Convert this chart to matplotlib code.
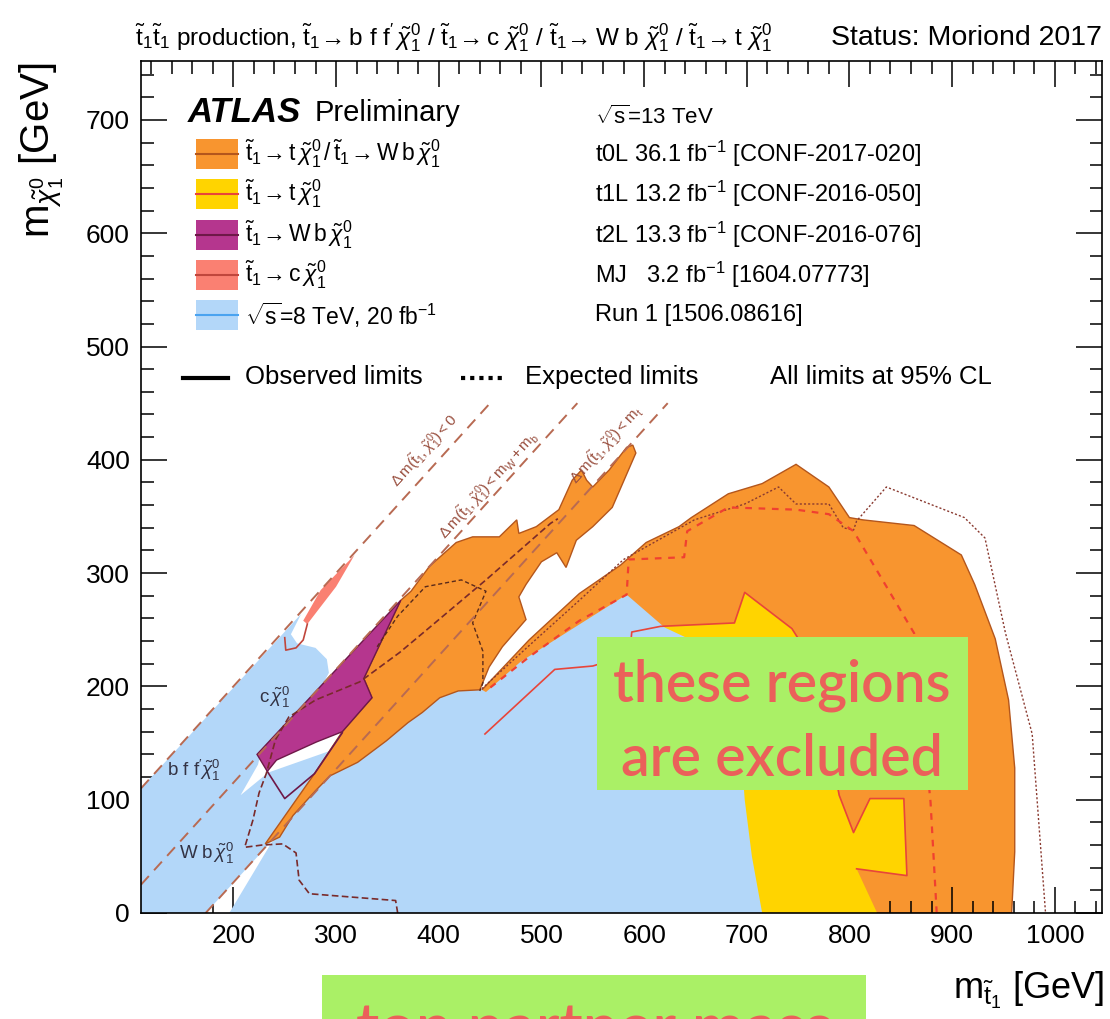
import matplotlib.pyplot as plt
from matplotlib.patches import Rectangle
from matplotlib.lines import Line2D

plt.rcParams['font.family'] = ['Liberation Sans', 'DejaVu Sans']
plt.rcParams['mathtext.fontset'] = 'custom'
plt.rcParams['mathtext.rm'] = 'Liberation Sans'
plt.rcParams['mathtext.it'] = 'Liberation Sans:italic'
plt.rcParams['mathtext.bf'] = 'Liberation Sans:bold'

# ---- exclusion contours (m_stop, m_chi) in GeV ----
# Run 1 (8 TeV) light blue, split by the white slit along the top-mass line
run1_left_x = [110, 110, 266, 256, 262, 280, 291, 293, 286, 265, 245, 226, 224, 207, 234, 300, 290, 258, 237, 173]
run1_left_y = [0, 110, 264, 246, 238, 234, 224, 212, 200, 178, 158, 139, 131, 104, 124, 145, 128, 91, 63, 0]
run1_main_x = [196, 237, 258, 290, 330, 370, 410, 440, 446, 480, 520, 583, 620, 660, 690, 698, 705, 715]
run1_main_y = [0, 62, 88, 125, 160, 185, 200, 198, 195, 222, 245, 281, 252, 235, 200, 100, 50, 0]

# t0L 36.1 fb-1, orange: diagonal band and the large region
t0l_band_x = [231, 255, 279, 306, 335, 327, 345, 363, 373, 391, 417, 433, 459, 476, 478, 495, 517, 530, 539,
              544, 550, 566, 583, 589, 592, 569, 550, 534, 524, 515, 500, 485, 478, 485, 462, 449, 440,
              419, 401, 384, 370, 349, 321, 294, 280, 258, 245]
t0l_band_y = [61, 92, 123, 160, 190, 207, 242, 276, 284, 306, 327, 332, 332, 347, 335, 341, 356, 382, 391,
              382, 376, 391, 411, 413, 406, 358, 341, 329, 305, 318, 310, 290, 279, 259, 235, 217, 197,
              196, 190, 177, 168, 152, 133, 121, 108, 86, 67]
t0l_main_x = [439, 488, 537, 577, 602, 634, 646, 682, 715, 748, 780, 800, 813, 863, 909, 922, 942, 955,
              961, 961, 958, 600, 450]
t0l_main_y = [194, 241, 282, 307, 327, 341, 349, 370, 379, 396, 376, 349, 347, 342, 316, 290, 242, 188,
              128, 54, 0, 0, 150]

# t1L 13.2 fb-1, yellow
t1l_x = [445, 513, 550, 586, 588, 616, 688, 698, 744, 751, 770, 790, 804, 820, 853, 856, 807, 827, 715, 600]
t1l_y = [158, 215, 218, 228, 248, 253, 256, 283, 251, 241, 200, 104, 71, 101, 101, 33, 39, 0, 0, 80]

# t2L 13.3 fb-1, purple
t2l_x = [223, 363, 327, 335, 306, 281, 242, 233]
t2l_y = [140, 276, 207, 190, 160, 151, 135, 125]
t2l_obs_x = [233, 250, 279, 306]
t2l_obs_y = [125, 101, 123, 159]

# MJ 3.2 fb-1, salmon sliver
mj_x = [268, 285, 318, 300, 283, 272]
mj_y = [258, 285, 316, 288, 268, 255]
mj_hook_x = [250, 251, 261, 268, 272]
mj_hook_y = [243, 232, 234, 241, 255]

# expected limits
t2l_exp_x = [360, 358, 274, 264, 261, 248, 228, 211, 219, 225, 232, 241, 254, 280, 323, 362, 391, 446, 509, 516]
t2l_exp_y = [0, 11, 17, 29, 53, 61, 60, 58, 82, 106, 123, 153, 173, 188, 204, 230, 252, 294, 344, 348]
t0l_exp_band_x = [340, 360, 387, 422, 446, 433, 443, 443, 440]
t0l_exp_band_y = [235, 262, 288, 294, 284, 256, 231, 203, 196]
t0l_exp_x = [442, 488, 537, 580, 649, 698, 731, 748, 780, 794, 804, 807, 836, 912, 932, 952, 978, 991]
t0l_exp_y = [198, 236, 276, 312, 347, 361, 376, 361, 361, 340, 338, 346, 376, 349, 331, 247, 158, 0]
t1l_exp_x = [885, 879, 863, 804, 780, 748, 682, 642, 639, 585, 583, 537, 488, 446]
t1l_exp_y = [0, 98, 247, 337, 352, 356, 358, 337, 314, 312, 281, 258, 226, 196]

# kinematic boundaries: dm < 0, dm < mW + mb, dm < mt
kin_x = [[110, 450], [110, 535], [173, 623]]
kin_y = [[110, 450], [25, 450], [0, 450]]
kin_labels = [r'$\Delta\,\mathrm{m}(\tilde{\mathrm{t}}_1,\tilde{\chi}^0_1)<0$',
              r'$\Delta\,\mathrm{m}(\tilde{\mathrm{t}}_1,\tilde{\chi}^0_1)<\mathrm{m}_\mathrm{W}+\mathrm{m}_\mathrm{b}$',
              r'$\Delta\,\mathrm{m}(\tilde{\mathrm{t}}_1,\tilde{\chi}^0_1)<\mathrm{m}_\mathrm{t}$']
kin_label_xy = [(386, 408), (449, 378), (563, 413)]

decay_labels = [r'c$\,\tilde{\chi}^0_1$', r'b f f$^\prime\tilde{\chi}^0_1$', r'W b$\,\tilde{\chi}^0_1$']
decay_label_xy = [(240, 190), (161, 126), (174, 53)]

legend_labels = [
    r'$\tilde{\mathrm{t}}_1\!\rightarrow\mathrm{t}\,\tilde{\chi}^0_1\,/\,\tilde{\mathrm{t}}_1\!\rightarrow\mathrm{W\,b}\,\tilde{\chi}^0_1$',
    r'$\tilde{\mathrm{t}}_1\!\rightarrow\mathrm{t}\,\tilde{\chi}^0_1$',
    r'$\tilde{\mathrm{t}}_1\!\rightarrow\mathrm{W\,b}\,\tilde{\chi}^0_1$',
    r'$\tilde{\mathrm{t}}_1\!\rightarrow\mathrm{c}\,\tilde{\chi}^0_1$',
    r'$\sqrt{\mathrm{s}}$=8 TeV, 20 fb$^{-1}$',
]
legend_refs = [
    r't0L 36.1 fb$^{-1}$ [CONF-2017-020]',
    r't1L 13.2 fb$^{-1}$ [CONF-2016-050]',
    r't2L 13.3 fb$^{-1}$ [CONF-2016-076]',
    r'MJ   3.2 fb$^{-1}$ [1604.07773]',
    'Run 1 [1506.08616]',
]

ORANGE, ORANGE_LINE = '#f8952f', '#b4561c'
YELLOW, YELLOW_LINE = '#ffd400', '#e8453a'
PURPLE, PURPLE_LINE = '#b5368e', '#6e1848'
PINK, PINK_LINE = '#fa8072', '#c0463c'
BLUE, BLUE_LINE = '#b3d7f9', '#4aa3f0'
BROWN = '#b86a52'
GREEN, RED_TXT = '#aaf066', '#eb605a'

fig = plt.figure(figsize=(11.1, 10.19), dpi=100)
W, H = 1110, 1019
L, R, T, B = 141, 1102, 61, 913
ax = fig.add_axes([L / W, 1 - B / H, (R - L) / W, (B - T) / H])


def af(px, py):
    # picture pixel -> axes fraction
    return (px - L) / (R - L), (B - py) / (B - T)


ax.fill(t0l_main_x, t0l_main_y, fc=ORANGE, ec=ORANGE_LINE, lw=1.0, zorder=1)
ax.fill(t1l_x, t1l_y, fc=YELLOW, ec='none', zorder=2)
ax.fill(run1_left_x, run1_left_y, fc=BLUE, ec='none', zorder=3)
ax.fill(run1_main_x, run1_main_y, fc=BLUE, ec='none', zorder=3)
ax.plot(t1l_x[:17], t1l_y[:17], color=YELLOW_LINE, lw=1.2, zorder=4)
ax.fill(t0l_band_x, t0l_band_y, fc=ORANGE, ec=ORANGE_LINE, lw=1.0, zorder=5)
ax.fill(t2l_x, t2l_y, fc=PURPLE, ec=PURPLE_LINE, lw=1.0, zorder=6)
ax.plot(t2l_obs_x, t2l_obs_y, color=PURPLE_LINE, lw=1.2, zorder=6)
ax.fill(mj_x, mj_y, fc=PINK, ec='none', zorder=6)
ax.plot(mj_hook_x, mj_hook_y, color=PINK_LINE, lw=1.2, zorder=6)

ax.plot(t2l_exp_x, t2l_exp_y, color='#7a2a2a', lw=1.2, ls=(0, (4, 2)), zorder=7)
ax.plot(t0l_exp_band_x, t0l_exp_band_y, color='#5a2a1a', lw=1.0, ls=(0, (3, 2)), zorder=7)
ax.plot(t0l_exp_x, t0l_exp_y, color='#8a3a30', lw=1.0, ls=(0, (1.5, 1.5)), zorder=7)
ax.plot(t1l_exp_x, t1l_exp_y, color='#f04030', lw=1.6, ls=(0, (3, 3)), zorder=7)

for xs, ys in zip(kin_x, kin_y):
    ax.plot(xs, ys, color=BROWN, lw=1.4, ls=(0, (6, 4)), zorder=8)
for (x, y), s in zip(kin_label_xy, kin_labels):
    ax.text(x, y, s, rotation=45, transform_rotates_text=True, rotation_mode='anchor',
            ha='center', va='center', fontsize=11, color='#9a5040', zorder=8)
for (x, y), s in zip(decay_label_xy, decay_labels):
    ax.text(x, y, s, fontsize=13.5, color='#333344', ha='center', va='center', zorder=8)

ax.set_xlim(110, 1046)
ax.set_ylim(0, 752)
ax.set_xticks(range(200, 1001, 100))
ax.set_xticks(range(120, 1046, 20), minor=True)
ax.set_yticks(range(0, 701, 100))
ax.set_yticks(range(0, 752, 20), minor=True)
ax.tick_params(which='both', direction='in', top=True, right=True, width=1.1, labelsize=19, zorder=10)
ax.tick_params(which='major', length=19, pad=8)
ax.tick_params(which='minor', length=9)
for sp in ax.spines.values():
    sp.set_linewidth(1.2)
    sp.set_zorder(10)

# ATLAS label and legend
ax.text(*af(188, 113), 'ATLAS', transform=ax.transAxes, fontsize=25, fontweight='bold',
        fontstyle='italic', va='center', ha='left')
ax.text(*af(315, 113), 'Preliminary', transform=ax.transAxes, fontsize=21, va='center', ha='left')
ax.text(*af(595, 117), r'$\sqrt{\mathrm{s}}$=13 TeV', transform=ax.transAxes, fontsize=16, va='center')

box_fc = [ORANGE, YELLOW, PURPLE, PINK, BLUE]
box_lc = [ORANGE_LINE, YELLOW_LINE, PURPLE_LINE, PINK_LINE, BLUE_LINE]
row_py = [154, 194, 235, 275, 315]
for fc, lc, py, lab, ref in zip(box_fc, box_lc, row_py, legend_labels, legend_refs):
    x0, y0 = af(196, py + 15)
    x1, y1 = af(238, py - 15)
    ax.add_patch(Rectangle((x0, y0), x1 - x0, y1 - y0, transform=ax.transAxes, fc=fc, ec='none', zorder=11))
    ax.add_line(Line2D([x0, x1], [(y0 + y1) / 2] * 2, transform=ax.transAxes, color=lc, lw=1.5, zorder=12))
    ax.text(*af(245, py), lab, transform=ax.transAxes, fontsize=16.5, va='center', ha='left', zorder=12)
    ax.text(*af(595, py), ref, transform=ax.transAxes, fontsize=17, va='center', ha='left', zorder=12)

ax.add_line(Line2D([af(183, 0)[0], af(228, 0)[0]], [af(0, 378)[1]] * 2, transform=ax.transAxes,
                   color='black', lw=3))
ax.text(*af(245, 377), 'Observed limits', transform=ax.transAxes, fontsize=18.5, va='center')
ax.add_line(Line2D([af(461, 0)[0], af(505, 0)[0]], [af(0, 378)[1]] * 2, transform=ax.transAxes,
                   color='black', lw=3, ls=(0, (1, 1.2))))
ax.text(*af(525, 377), 'Expected limits', transform=ax.transAxes, fontsize=18.5, va='center')
ax.text(*af(770, 377), 'All limits at 95% CL', transform=ax.transAxes, fontsize=18.5, va='center')

# axis titles and header
fig.text(1104 / W, 1 - 990 / H, r'm$_{\tilde{\mathrm{t}}_1}$ [GeV]', fontsize=26, ha='right', va='center')
fig.text(42 / W, 1 - 62 / H, r'm$_{\tilde{\chi}^0_1}$ [GeV]', fontsize=29, rotation=90, ha='center', va='top')
fig.text(135 / W, 1 - 38 / H,
         r'$\tilde{\mathrm{t}}_1\tilde{\mathrm{t}}_1$ production, $\tilde{\mathrm{t}}_1\!\rightarrow$b f f$^\prime\,\tilde{\chi}^0_1$'
         r' / $\tilde{\mathrm{t}}_1\!\rightarrow$c $\tilde{\chi}^0_1$ / $\tilde{\mathrm{t}}_1\!\rightarrow$W b $\tilde{\chi}^0_1$'
         r' / $\tilde{\mathrm{t}}_1\!\rightarrow$t $\tilde{\chi}^0_1$',
         fontsize=17.5, va='center', ha='left')
fig.text(1102 / W, 1 - 38 / H, 'Status: Moriond 2017', fontsize=20.5, va='center', ha='right')

# slide overlays
fig.add_artist(Rectangle((597 / W, 1 - 790 / H), 371 / W, 153 / H, transform=fig.transFigure,
                         fc=GREEN, ec='none', zorder=20))
fig.text(782 / W, 1 - 702 / H, 'these regions', fontsize=41, family='Lato', fontweight='semibold',
         color=RED_TXT, ha='center', va='baseline', zorder=21)
fig.text(782 / W, 1 - 776 / H, 'are excluded', fontsize=41, family='Lato', fontweight='semibold',
         color=RED_TXT, ha='center', va='baseline', zorder=21)
fig.add_artist(Rectangle((322 / W, 0), 544 / W, 44 / H, transform=fig.transFigure,
                         fc=GREEN, ec='none', zorder=20))
fig.text(594 / W, 1 - 1001 / H, 'top partner mass', fontsize=46, family='Lato', fontweight='semibold',
         color=RED_TXT, ha='center', va='top', zorder=21)

fig.savefig('out.png', dpi=100)
